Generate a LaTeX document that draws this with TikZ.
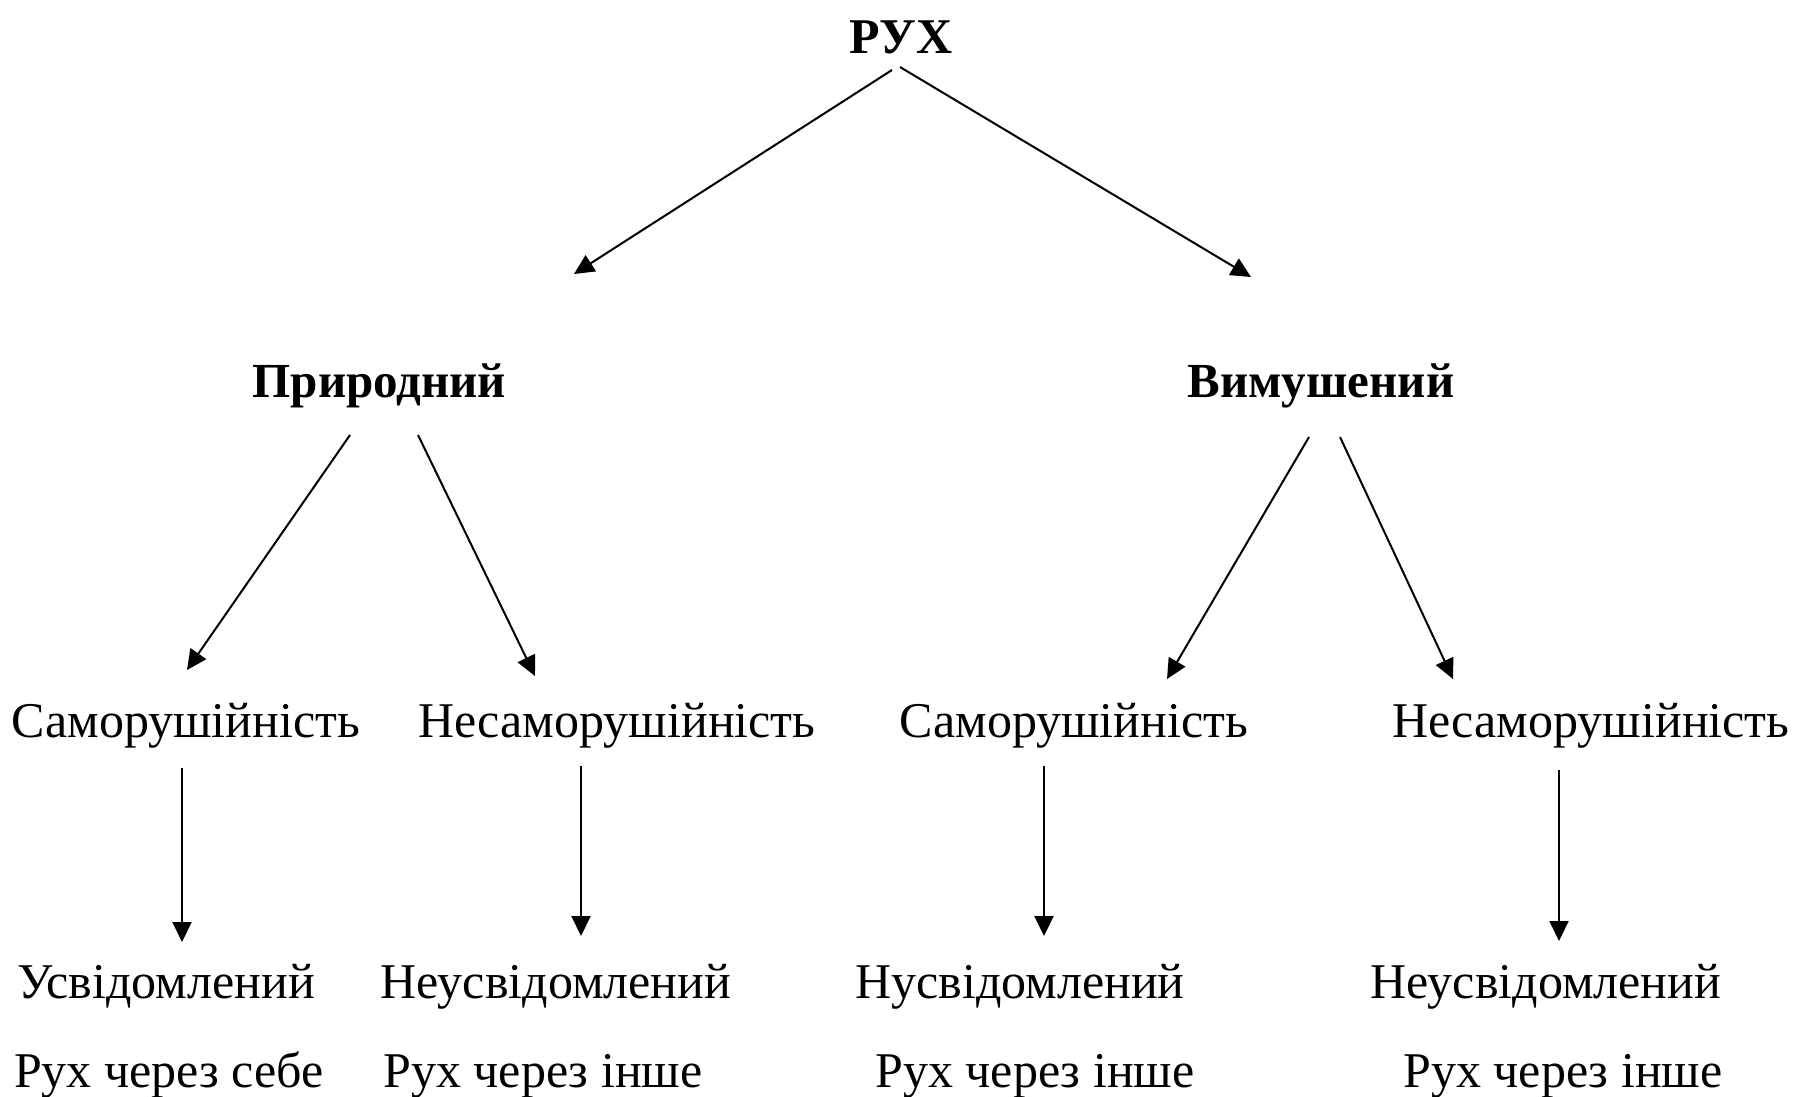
\documentclass[tikz,border=0pt]{standalone}
\usepackage{fontspec}
\setmainfont{Liberation Serif}
\usetikzlibrary{arrows.meta,calc}
\begin{document}
\begin{tikzpicture}[x=1pt,y=-1pt,
  lbl/.style={anchor=base,inner sep=0pt,font=\fontsize{50}{60}\selectfont},
  head/.style={anchor=base,inner sep=0pt,font=\fontsize{49}{59}\selectfont\bfseries},
  arr/.style={line width=2pt,-{Triangle[length=20pt,width=19pt]}}]
\useasboundingbox[fill=white] (0,0) rectangle (1811,1096);
% nodes
\node[head,font=\fontsize{50}{60}\selectfont\bfseries] (ruh) at (901,53) {РУХ};
\node[head] (pryr) at (379.5,397) {Природний};
\node[head] (vym) at (1321,397) {Вимушений};
\node[lbl] (s1) at (186,737) {Саморушійність};
\node[lbl] (n1) at (617,737) {Несаморушійність};
\node[lbl] (s2) at (1074,737) {Саморушійність};
\node[lbl] (n2) at (1591,737) {Несаморушійність};
\node[lbl] (u1) at (166,998) {Усвідомлений};
\node[lbl] (u2) at (556,998) {Неусвідомлений};
\node[lbl] (u3) at (1020,998) {Нусвідомлений};
\node[lbl] (u4) at (1546,998) {Неусвідомлений};
\node[lbl] (r1) at (169,1087) {Рух через себе};
\node[lbl] (r2) at (543,1087) {Рух через інше};
\node[lbl] (r3) at (1035,1087) {Рух через інше};
\node[lbl] (r4) at (1563,1087) {Рух через інше};
% connectors
\draw[arr] ($(ruh.base)+(-9,17)$) -- ($(pryr.base)+(194.5,-123)$);
\draw[arr] ($(ruh.base)+(-1,14)$) -- ($(vym.base)+(-70,-120)$);
\draw[arr] ($(pryr.base)+(-29.5,38)$) -- ($(s1.base)+(1,-67)$);
\draw[arr] ($(pryr.base)+(38.5,38)$) -- ($(n1.base)+(-82,-61)$);
\draw[arr] ($(vym.base)+(-12,40)$) -- ($(s2.base)+(93,-58)$);
\draw[arr] ($(vym.base)+(19,40)$) -- ($(n2.base)+(-138,-58)$);
\draw[arr] ($(s1.base)+(-4,31)$) -- ($(u1.base)+(16,-56)$);
\draw[arr] ($(n1.base)+(-36,29)$) -- ($(u2.base)+(25,-62)$);
\draw[arr] ($(s2.base)+(-30,29)$) -- ($(u3.base)+(24,-62)$);
\draw[arr] ($(n2.base)+(-32,33)$) -- ($(u4.base)+(13,-57)$);
\end{tikzpicture}
\end{document}
